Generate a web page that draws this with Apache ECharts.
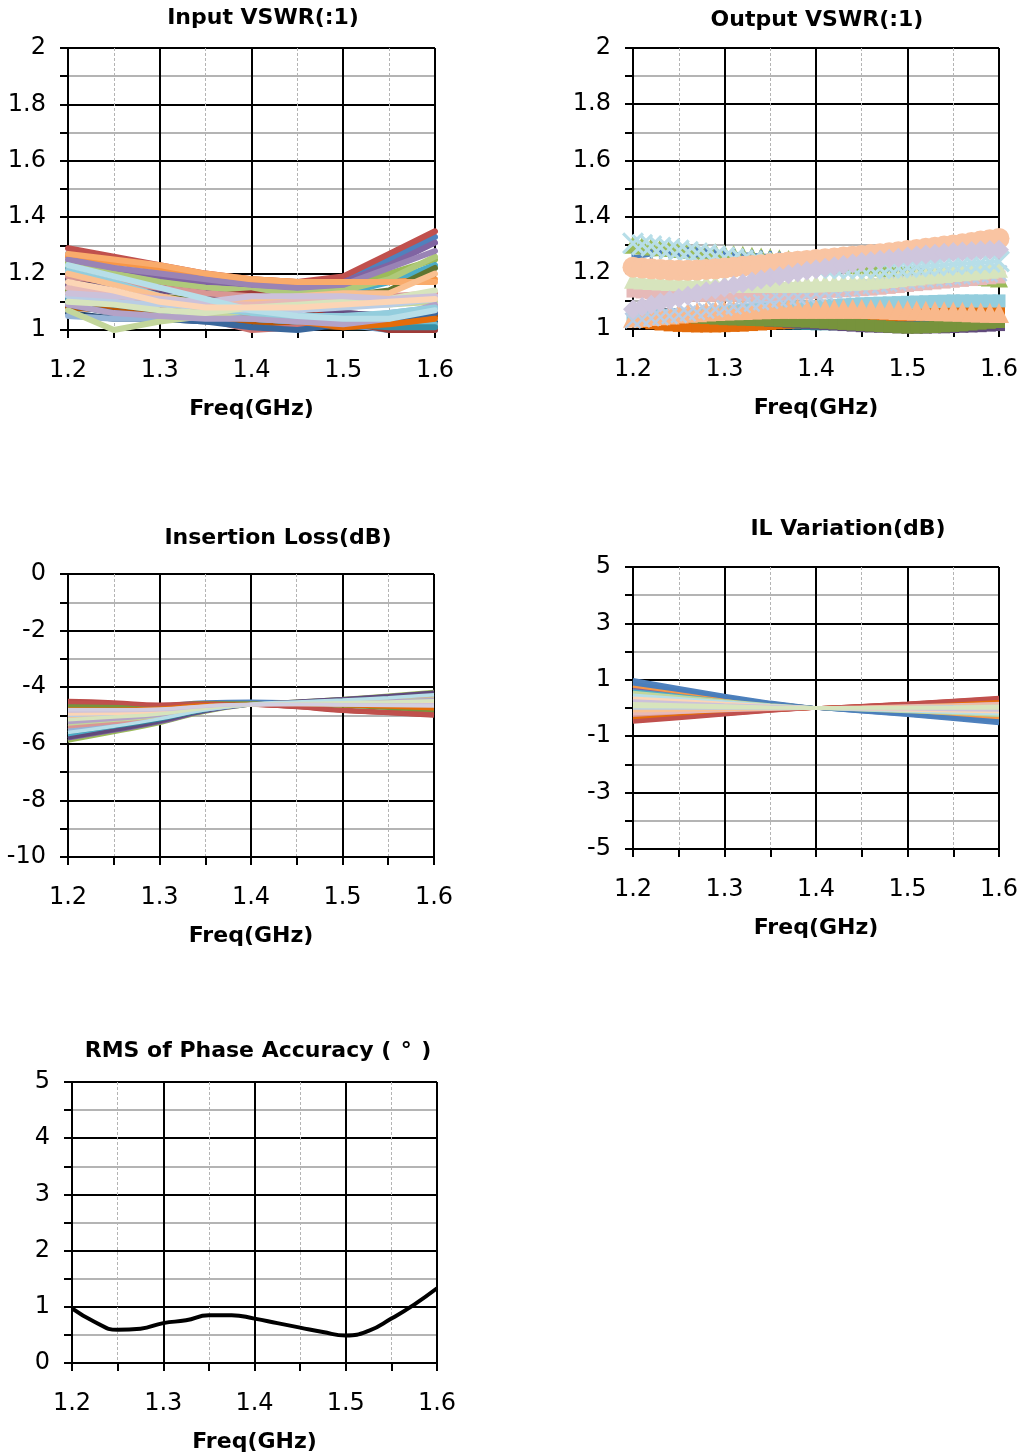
<!DOCTYPE html>
<html>
<head>
<meta charset="utf-8">
<script src="https://cdn.jsdelivr.net/npm/echarts@6/dist/echarts.min.js"></script>
<style>
  html, body { margin: 0; padding: 0; background: #fff; }
  #chart { width: 1025px; height: 1455px; }
</style>
</head>
<body>
<div id="chart"></div>
<script>
// frequency points (GHz)
var freq9 = [1.2, 1.25, 1.3, 1.35, 1.4, 1.45, 1.5, 1.55, 1.6];
var freq17 = [1.2, 1.225, 1.25, 1.275, 1.3, 1.325, 1.35, 1.375, 1.4, 1.425, 1.45, 1.475, 1.5, 1.525, 1.55, 1.575, 1.6];
var freq41 = [1.20, 1.21, 1.22, 1.23, 1.24, 1.25, 1.26, 1.27, 1.28, 1.29, 1.30,
  1.31, 1.32, 1.33, 1.34, 1.35, 1.36, 1.37, 1.38, 1.39, 1.40,
  1.41, 1.42, 1.43, 1.44, 1.45, 1.46, 1.47, 1.48, 1.49, 1.50,
  1.51, 1.52, 1.53, 1.54, 1.55, 1.56, 1.57, 1.58, 1.59, 1.60];

// Input VSWR, one row per state (values at freq9)
var inputVswr = [
  [1.27, 1.25, 1.22, 1.19, 1.17, 1.16, 1.18, 1.25, 1.33],
  [1.29, 1.26, 1.23, 1.20, 1.18, 1.17, 1.19, 1.27, 1.35],
  [1.24, 1.21, 1.18, 1.15, 1.14, 1.13, 1.15, 1.20, 1.25],
  [1.26, 1.22, 1.19, 1.17, 1.16, 1.15, 1.17, 1.23, 1.31],
  [1.22, 1.18, 1.15, 1.13, 1.12, 1.12, 1.13, 1.17, 1.23],
  [1.26, 1.24, 1.22, 1.19, 1.18, 1.17, 1.17, 1.17, 1.18],
  [1.06, 1.04, 1.04, 1.03, 1.03, 1.02, 1.02, 1.03, 1.05],
  [1.20, 1.17, 1.15, 1.13, 1.11, 1.08, 1.04, 1.02, 1.01],
  [1.17, 1.14, 1.12, 1.10, 1.10, 1.11, 1.12, 1.14, 1.22],
  [1.18, 1.17, 1.16, 1.14, 1.12, 1.09, 1.06, 1.05, 1.06],
  [1.10, 1.07, 1.06, 1.04, 1.03, 1.02, 1.01, 1.01, 1.03],
  [1.08, 1.07, 1.06, 1.05, 1.03, 1.02, 1.01, 1.02, 1.05],
  [1.12, 1.10, 1.08, 1.06, 1.04, 1.03, 1.02, 1.00, 1.00],
  [1.21, 1.19, 1.13, 1.04, 1.00, 1.01, 1.02, 1.03, 1.02],
  [1.23, 1.20, 1.17, 1.15, 1.14, 1.13, 1.14, 1.18, 1.26],
  [1.25, 1.22, 1.20, 1.18, 1.16, 1.15, 1.16, 1.22, 1.28],
  [1.15, 1.13, 1.11, 1.09, 1.07, 1.05, 1.03, 1.00, 1.02],
  [1.27, 1.25, 1.23, 1.20, 1.18, 1.17, 1.17, 1.17, 1.17],
  [1.09, 1.06, 1.04, 1.03, 1.01, 1.00, 1.02, 1.04, 1.06],
  [1.19, 1.17, 1.15, 1.12, 1.13, 1.10, 1.03, 1.00, 1.00],
  [1.14, 1.12, 1.10, 1.09, 1.07, 1.05, 1.04, 1.05, 1.08],
  [1.16, 1.15, 1.14, 1.13, 1.11, 1.09, 1.06, 1.05, 1.07],
  [1.11, 1.09, 1.07, 1.05, 1.04, 1.03, 1.02, 1.01, 1.01],
  [1.13, 1.11, 1.09, 1.07, 1.05, 1.03, 1.01, 1.02, 1.04],
  [1.05, 1.04, 1.04, 1.05, 1.04, 1.03, 1.04, 1.06, 1.08],
  [1.19, 1.17, 1.15, 1.13, 1.12, 1.11, 1.11, 1.12, 1.13],
  [1.07, 1.00, 1.03, 1.05, 1.07, 1.08, 1.09, 1.09, 1.10],
  [1.09, 1.06, 1.05, 1.04, 1.04, 1.03, 1.02, 1.04, 1.09],
  [1.21, 1.17, 1.12, 1.08, 1.06, 1.05, 1.05, 1.06, 1.08],
  [1.20, 1.16, 1.12, 1.09, 1.10, 1.12, 1.13, 1.13, 1.20],
  [1.12, 1.10, 1.09, 1.08, 1.07, 1.07, 1.08, 1.09, 1.11],
  [1.15, 1.13, 1.11, 1.09, 1.09, 1.10, 1.10, 1.11, 1.12],
  [1.10, 1.09, 1.07, 1.06, 1.08, 1.09, 1.10, 1.11, 1.14],
  [1.13, 1.12, 1.11, 1.10, 1.12, 1.12, 1.12, 1.11, 1.12],
  [1.23, 1.19, 1.15, 1.11, 1.07, 1.05, 1.04, 1.04, 1.07],
  [1.17, 1.14, 1.10, 1.08, 1.08, 1.08, 1.09, 1.10, 1.11]
];

// Output VSWR, one row per state (values at freq41)
var outputVswr = [
  [1.050, 1.048, 1.046, 1.044, 1.042, 1.040, 1.038, 1.036, 1.034, 1.032, 1.030,
   1.028, 1.026, 1.024, 1.022, 1.020, 1.019, 1.018, 1.017, 1.016, 1.015,
   1.015, 1.015, 1.015, 1.016, 1.017, 1.018, 1.019, 1.020, 1.022, 1.024,
   1.026, 1.028, 1.030, 1.032, 1.034, 1.036, 1.038, 1.040, 1.042, 1.044],
  [1.030, 1.025, 1.020, 1.016, 1.013, 1.011, 1.010, 1.009, 1.009, 1.009, 1.010,
   1.011, 1.012, 1.014, 1.016, 1.018, 1.020, 1.022, 1.024, 1.026, 1.028,
   1.030, 1.032, 1.034, 1.036, 1.038, 1.040, 1.042, 1.044, 1.046, 1.048,
   1.050, 1.052, 1.054, 1.056, 1.058, 1.060, 1.062, 1.064, 1.066, 1.068],
  [1.060, 1.058, 1.056, 1.054, 1.052, 1.050, 1.048, 1.046, 1.044, 1.042, 1.040,
   1.038, 1.036, 1.034, 1.032, 1.030, 1.028, 1.026, 1.024, 1.022, 1.020,
   1.018, 1.016, 1.014, 1.012, 1.010, 1.009, 1.008, 1.007, 1.006, 1.005,
   1.005, 1.005, 1.006, 1.006, 1.007, 1.008, 1.009, 1.010, 1.012, 1.014],
  [1.060, 1.057, 1.054, 1.051, 1.048, 1.045, 1.043, 1.041, 1.039, 1.037, 1.035,
   1.034, 1.033, 1.032, 1.031, 1.030, 1.029, 1.028, 1.027, 1.026, 1.024,
   1.022, 1.020, 1.018, 1.016, 1.014, 1.012, 1.010, 1.008, 1.006, 1.005,
   1.005, 1.006, 1.007, 1.009, 1.011, 1.013, 1.016, 1.019, 1.022, 1.025],
  [1.300, 1.297, 1.294, 1.291, 1.288, 1.285, 1.282, 1.279, 1.276, 1.273, 1.270,
   1.267, 1.264, 1.261, 1.258, 1.255, 1.252, 1.249, 1.246, 1.243, 1.240,
   1.237, 1.234, 1.231, 1.228, 1.225, 1.222, 1.219, 1.216, 1.213, 1.210,
   1.207, 1.204, 1.201, 1.198, 1.195, 1.192, 1.189, 1.186, 1.183, 1.180],
  [1.255, 1.260, 1.265, 1.268, 1.270, 1.272, 1.273, 1.273, 1.272, 1.271, 1.270,
   1.268, 1.266, 1.264, 1.262, 1.260, 1.257, 1.254, 1.251, 1.248, 1.245,
   1.242, 1.239, 1.236, 1.233, 1.230, 1.227, 1.224, 1.221, 1.218, 1.215,
   1.212, 1.209, 1.206, 1.203, 1.200, 1.197, 1.194, 1.191, 1.188, 1.185],
  [1.135, 1.132, 1.129, 1.127, 1.125, 1.123, 1.122, 1.121, 1.120, 1.120, 1.120,
   1.120, 1.121, 1.122, 1.123, 1.124, 1.125, 1.126, 1.127, 1.128, 1.130,
   1.132, 1.134, 1.136, 1.138, 1.140, 1.142, 1.145, 1.148, 1.151, 1.155,
   1.158, 1.161, 1.164, 1.167, 1.170, 1.173, 1.176, 1.179, 1.182, 1.185],
  [1.045, 1.046, 1.047, 1.048, 1.049, 1.050, 1.052, 1.054, 1.056, 1.058, 1.060,
   1.062, 1.064, 1.066, 1.068, 1.070, 1.072, 1.074, 1.076, 1.078, 1.080,
   1.082, 1.084, 1.086, 1.088, 1.090, 1.091, 1.092, 1.093, 1.094, 1.095,
   1.096, 1.097, 1.098, 1.099, 1.100, 1.100, 1.100, 1.100, 1.100, 1.100],
  [1.040, 1.043, 1.046, 1.049, 1.052, 1.055, 1.058, 1.060, 1.062, 1.064, 1.066,
   1.067, 1.068, 1.069, 1.070, 1.071, 1.072, 1.072, 1.072, 1.072, 1.072,
   1.072, 1.072, 1.072, 1.072, 1.072, 1.071, 1.070, 1.069, 1.068, 1.067,
   1.066, 1.065, 1.064, 1.063, 1.062, 1.061, 1.060, 1.059, 1.058, 1.057],
  [1.030, 1.034, 1.038, 1.042, 1.046, 1.050, 1.055, 1.060, 1.065, 1.070, 1.075,
   1.080, 1.085, 1.090, 1.095, 1.100, 1.105, 1.110, 1.115, 1.120, 1.125,
   1.130, 1.135, 1.140, 1.144, 1.148, 1.152, 1.156, 1.160, 1.164, 1.168,
   1.171, 1.174, 1.177, 1.180, 1.183, 1.186, 1.189, 1.192, 1.195, 1.198],
  [1.175, 1.173, 1.171, 1.169, 1.167, 1.166, 1.165, 1.164, 1.163, 1.162, 1.162,
   1.161, 1.161, 1.160, 1.160, 1.160, 1.160, 1.160, 1.161, 1.161, 1.162,
   1.163, 1.164, 1.166, 1.168, 1.170, 1.172, 1.175, 1.178, 1.181, 1.184,
   1.187, 1.190, 1.193, 1.196, 1.199, 1.202, 1.205, 1.208, 1.211, 1.214],
  [1.305, 1.300, 1.295, 1.290, 1.285, 1.280, 1.275, 1.270, 1.265, 1.260, 1.255,
   1.250, 1.245, 1.241, 1.237, 1.233, 1.230, 1.227, 1.224, 1.221, 1.219,
   1.217, 1.216, 1.215, 1.215, 1.215, 1.215, 1.216, 1.217, 1.218, 1.220,
   1.222, 1.224, 1.226, 1.228, 1.230, 1.232, 1.234, 1.236, 1.238, 1.240],
  [1.220, 1.217, 1.214, 1.212, 1.210, 1.209, 1.209, 1.210, 1.212, 1.214, 1.217,
   1.220, 1.223, 1.226, 1.229, 1.232, 1.235, 1.238, 1.241, 1.244, 1.247,
   1.250, 1.253, 1.256, 1.259, 1.262, 1.265, 1.268, 1.271, 1.275, 1.279,
   1.283, 1.287, 1.291, 1.295, 1.299, 1.303, 1.308, 1.313, 1.318, 1.322],
  [1.070, 1.078, 1.086, 1.094, 1.102, 1.110, 1.118, 1.126, 1.134, 1.141, 1.148,
   1.155, 1.162, 1.169, 1.176, 1.183, 1.189, 1.195, 1.201, 1.207, 1.213,
   1.218, 1.223, 1.228, 1.233, 1.238, 1.242, 1.246, 1.250, 1.254, 1.258,
   1.262, 1.265, 1.268, 1.271, 1.274, 1.276, 1.278, 1.280, 1.281, 1.282]
];

// Insertion loss (dB), one row per state (values at freq9)
var insertionLoss = [
  [-4.62, -4.63, -4.62, -4.52, -4.50, -4.53, -4.58, -4.64, -4.72],
  [-4.47, -4.52, -4.60, -4.55, -4.62, -4.70, -4.82, -4.90, -4.98],
  [-5.90, -5.60, -5.28, -4.88, -4.62, -4.50, -4.40, -4.28, -4.15],
  [-5.82, -5.55, -5.25, -4.86, -4.62, -4.51, -4.42, -4.31, -4.19],
  [-5.70, -5.47, -5.20, -4.84, -4.61, -4.52, -4.44, -4.35, -4.25],
  [-4.72, -4.72, -4.70, -4.60, -4.58, -4.60, -4.64, -4.70, -4.78],
  [-4.56, -4.58, -4.64, -4.58, -4.62, -4.68, -4.78, -4.85, -4.92],
  [-4.50, -4.55, -4.63, -4.57, -4.63, -4.72, -4.85, -4.93, -5.02],
  [-4.66, -4.67, -4.66, -4.56, -4.56, -4.60, -4.66, -4.74, -4.82],
  [-5.80, -5.52, -5.22, -4.85, -4.60, -4.50, -4.41, -4.30, -4.18],
  [-5.60, -5.40, -5.15, -4.82, -4.60, -4.53, -4.46, -4.38, -4.29],
  [-4.53, -4.56, -4.63, -4.58, -4.63, -4.71, -4.84, -4.92, -5.00],
  [-5.50, -5.32, -5.10, -4.80, -4.61, -4.54, -4.48, -4.42, -4.34],
  [-4.78, -4.78, -4.74, -4.62, -4.60, -4.61, -4.65, -4.70, -4.76],
  [-5.40, -5.25, -5.06, -4.78, -4.61, -4.55, -4.50, -4.45, -4.38],
  [-5.30, -5.17, -5.02, -4.77, -4.62, -4.56, -4.52, -4.48, -4.42],
  [-5.20, -5.10, -4.97, -4.75, -4.62, -4.57, -4.54, -4.51, -4.46],
  [-5.10, -5.02, -4.93, -4.73, -4.62, -4.58, -4.56, -4.54, -4.50],
  [-5.00, -4.95, -4.88, -4.71, -4.62, -4.59, -4.58, -4.57, -4.54],
  [-4.90, -4.88, -4.84, -4.69, -4.62, -4.60, -4.60, -4.60, -4.58],
  [-5.25, -5.13, -4.99, -4.76, -4.62, -4.56, -4.53, -4.49, -4.44],
  [-5.60, -5.38, -5.12, -4.80, -4.60, -4.52, -4.45, -4.37, -4.27],
  [-4.95, -4.92, -4.86, -4.70, -4.62, -4.59, -4.59, -4.58, -4.56],
  [-5.15, -5.05, -4.95, -4.74, -4.62, -4.58, -4.55, -4.52, -4.48],
  [-4.84, -4.83, -4.80, -4.67, -4.61, -4.61, -4.62, -4.63, -4.62],
  [-4.80, -4.80, -4.77, -4.66, -4.61, -4.61, -4.63, -4.65, -4.66]
];

// IL variation (dB), one row per state (values at freq9)
var ilVariation = [
  [1.00, 0.72, 0.44, 0.20, 0.00, -0.13, -0.26, -0.40, -0.55],
  [-0.50, -0.37, -0.24, -0.11, 0.00, 0.08, 0.17, 0.27, 0.37],
  [0.80, 0.58, 0.36, 0.16, 0.00, -0.10, -0.20, -0.30, -0.42],
  [0.70, 0.51, 0.32, 0.14, 0.00, -0.08, -0.17, -0.26, -0.36],
  [0.60, 0.44, 0.28, 0.12, 0.00, -0.07, -0.14, -0.22, -0.30],
  [0.78, 0.57, 0.36, 0.16, 0.00, -0.09, -0.18, -0.28, -0.38],
  [0.92, 0.67, 0.41, 0.18, 0.00, -0.12, -0.24, -0.37, -0.50],
  [-0.42, -0.31, -0.20, -0.09, 0.00, 0.07, 0.15, 0.24, 0.33],
  [0.50, 0.37, 0.23, 0.10, 0.00, -0.05, -0.11, -0.17, -0.23],
  [-0.30, -0.22, -0.14, -0.06, 0.00, 0.05, 0.11, 0.17, 0.24],
  [0.40, 0.30, 0.19, 0.08, 0.00, -0.04, -0.08, -0.12, -0.16],
  [-0.38, -0.28, -0.18, -0.08, 0.00, 0.06, 0.13, 0.20, 0.28],
  [0.86, 0.63, 0.39, 0.17, 0.00, -0.11, -0.22, -0.34, -0.46],
  [-0.46, -0.34, -0.22, -0.10, 0.00, 0.08, 0.16, 0.26, 0.35],
  [0.30, 0.22, 0.14, 0.06, 0.00, -0.02, -0.05, -0.08, -0.10],
  [0.20, 0.15, 0.09, 0.04, 0.00, -0.01, -0.02, -0.03, -0.04],
  [-0.20, -0.15, -0.09, -0.04, 0.00, 0.03, 0.07, 0.11, 0.15],
  [0.10, 0.07, 0.05, 0.02, 0.00, 0.00, 0.01, 0.02, 0.03],
  [-0.10, -0.07, -0.05, -0.02, 0.00, 0.02, 0.04, 0.07, 0.10],
  [0.55, 0.40, 0.25, 0.11, 0.00, -0.06, -0.12, -0.19, -0.26],
  [0.00, 0.00, 0.00, 0.00, 0.00, 0.01, 0.02, 0.04, 0.06],
  [0.45, 0.33, 0.21, 0.09, 0.00, -0.05, -0.10, -0.15, -0.20],
  [0.35, 0.26, 0.16, 0.07, 0.00, -0.03, -0.07, -0.10, -0.13],
  [0.25, 0.18, 0.11, 0.05, 0.00, -0.02, -0.03, -0.05, -0.07],
  [0.15, 0.11, 0.07, 0.03, 0.00, 0.00, 0.00, 0.00, 0.00],
  [0.05, 0.04, 0.02, 0.01, 0.00, 0.01, 0.02, 0.03, 0.05]
];

// RMS phase accuracy (deg) at freq17
var rmsPhase = [0.97, 0.73, 0.59, 0.61, 0.71, 0.76, 0.85, 0.85, 0.79, 0.71, 0.63, 0.55, 0.49, 0.57, 0.79, 1.04, 1.33];

// excel-like colour cycle
var palette = ['#4F81BD', '#C0504D', '#9BBB59', '#8064A2', '#4BACC6', '#F79646',
  '#2C4D75', '#772C2A', '#5F7530', '#4D3B62', '#276A7C', '#B65708',
  '#729ACA', '#CD7371', '#AFC97A', '#9983B5', '#6FBDD1', '#F9AB6B',
  '#3A679C', '#9F3B38', '#7E9C40', '#664F83', '#358EA6', '#E46C0A',
  '#95B3D7', '#D99694', '#C3D69B', '#B3A2C7', '#93CDDD', '#FAC090',
  '#B9CDE5', '#E6B9B8', '#D7E4BD', '#CCC1DA', '#B7DEE8', '#FCD5B5'];
var ilColors = ['#4F81BD', '#C0504D', '#9BBB59', '#8064A2', '#4BACC6', '#F79646',
  '#C0504D', '#B84A47', '#77933C', '#604A7B', '#31859C', '#C0504D',
  '#95B3D7', '#E46C0A', '#D99694', '#C3D69B', '#93CDDD', '#FAC090',
  '#B9CDE5', '#E6B9B8', '#B3A2C7', '#B7DEE8', '#FCD5B5', '#D7E4BD', '#CCC1DA', '#D3CEE0'];
var ilvColors = ['#4F81BD', '#C0504D', '#9BBB59', '#8064A2', '#4BACC6', '#F79646',
  '#4F81BD', '#C0504D', '#77933C', '#D99694', '#31859C', '#E46C0A',
  '#4A7EBB', '#C0504D', '#95B3D7', '#B3A2C7', '#E6B9B8', '#93CDDD',
  '#FAC090', '#C3D69B', '#B9CDE5', '#B7DEE8', '#FCD5B5', '#CCC1DA', '#D7E4BD', '#D7E4BD'];

var xMark = 'path://M1,0L5,4L9,0L10,1L6,5L10,9L9,10L5,6L1,10L0,9L4,5L0,1Z';
var outStyles = [
  { color: '#31859C', symbol: 'rect', size: 11 },
  { color: '#E46C0A', symbol: 'rect', size: 12 },
  { color: '#604A7B', symbol: 'rect', size: 12 },
  { color: '#77933C', symbol: 'rect', size: 12 },
  { color: '#9BBB59', symbol: 'triangle', size: 18 },
  { color: '#4F81BD', symbol: 'rect', size: [3, 10] },
  { color: '#E6B9B8', symbol: 'rect', size: 13 },
  { color: '#93CDDD', symbol: 'rect', size: 13 },
  { color: '#F9B88B', symbol: 'triangle', size: 20 },
  { color: '#B9CDE5', symbol: xMark, size: 17 },
  { color: '#D7E4BD', symbol: 'triangle', size: 18 },
  { color: '#B7DEE8', symbol: xMark, size: 22 },
  { color: '#F9C4A2', symbol: 'circle', size: 21 },
  { color: '#CFC6DD', symbol: 'diamond', size: 20 }
];

var FONT = '"DejaVu Sans", Verdana, sans-serif';

var grids = [
  { left: 68, top: 48, width: 367, height: 282 },
  { left: 633, top: 48, width: 366, height: 281 },
  { left: 68, top: 574, width: 366, height: 283 },
  { left: 633, top: 567, width: 366, height: 282 },
  { left: 72, top: 1082, width: 365, height: 281 }
];

function xAxisFor(i) {
  return {
    type: 'value', gridIndex: i, min: 1.2, max: 1.6, interval: 0.1,
    axisLine: { onZero: false, lineStyle: { color: '#000', width: 2 } },
    axisTick: { length: 8, lineStyle: { color: '#000', width: 2 } },
    minorTick: { show: true, splitNumber: 2, length: 8, lineStyle: { color: '#000', width: 2 } },
    splitLine: { show: true, lineStyle: { color: '#000', width: 2 } },
    minorSplitLine: { show: true, lineStyle: { color: '#b4b4b4', width: 1, type: [3, 2] } },
    axisLabel: { margin: 29, fontSize: 24, fontFamily: FONT, color: '#000',
      formatter: function (v) { return v.toFixed(1); } },
    name: 'Freq(GHz)', nameLocation: 'middle', nameGap: 68,
    nameTextStyle: { fontSize: 22, fontWeight: 'bold', fontFamily: FONT, color: '#000' }
  };
}

function yAxisFor(i, min, max, step) {
  return {
    type: 'value', gridIndex: i, min: min, max: max, interval: step,
    axisLine: { show: true, onZero: false, lineStyle: { color: '#000', width: 2 } },
    axisTick: { show: true, length: 8, lineStyle: { color: '#000', width: 2 } },
    minorTick: { show: true, splitNumber: 2, length: 8, lineStyle: { color: '#000', width: 2 } },
    splitLine: { show: true, lineStyle: { color: '#000', width: 2 } },
    minorSplitLine: { show: true, lineStyle: { color: '#b4b4b4', width: 2 } },
    axisLabel: { margin: 22, fontSize: 24, fontFamily: FONT, color: '#000' }
  };
}

function pairs(xs, ys) {
  return ys.map(function (v, j) { return [xs[j], v]; });
}

var series = [];
inputVswr.forEach(function (row, k) {
  series.push({
    type: 'line', xAxisIndex: 0, yAxisIndex: 0, data: pairs(freq9, row),
    symbol: 'none', clip: false, silent: true,
    lineStyle: { width: 6, color: palette[k], cap: 'round', join: 'round' }
  });
});
outputVswr.forEach(function (row, k) {
  var st = outStyles[k];
  series.push({
    type: 'line', xAxisIndex: 1, yAxisIndex: 1, data: pairs(freq41, row),
    symbol: st.symbol, symbolSize: st.size, showAllSymbol: true, clip: false, silent: true,
    itemStyle: { color: st.color, borderWidth: 0 },
    lineStyle: { width: 4, color: st.color }
  });
});
insertionLoss.forEach(function (row, k) {
  series.push({
    type: 'line', xAxisIndex: 2, yAxisIndex: 2, data: pairs(freq9, row),
    symbol: 'none', smooth: true, clip: false, silent: true,
    lineStyle: { width: 3.5, color: ilColors[k] }
  });
});
ilVariation.forEach(function (row, k) {
  series.push({
    type: 'line', xAxisIndex: 3, yAxisIndex: 3, data: pairs(freq9, row),
    symbol: 'none', clip: false, silent: true,
    lineStyle: { width: 3.5, color: ilvColors[k] }
  });
});
series.push({
  type: 'line', xAxisIndex: 4, yAxisIndex: 4, data: pairs(freq17, rmsPhase),
  symbol: 'none', smooth: true, clip: false, silent: true,
  lineStyle: { width: 4, color: '#000' }
});

function titleText(x, y, text, rich) {
  return {
    type: 'text', x: x, y: y, silent: true,
    style: {
      text: text, fill: '#000', font: 'bold 22px ' + FONT,
      align: 'center', verticalAlign: 'middle', rich: rich
    }
  };
}

var chart = echarts.init(document.getElementById('chart'), null, { renderer: 'canvas' });
chart.setOption({
  animation: false,
  backgroundColor: '#fff',
  grid: grids,
  xAxis: [xAxisFor(0), xAxisFor(1), xAxisFor(2), xAxisFor(3), xAxisFor(4)],
  yAxis: [yAxisFor(0, 1, 2, 0.2), yAxisFor(1, 1, 2, 0.2), yAxisFor(2, -10, 0, 2),
    yAxisFor(3, -5, 5, 2), yAxisFor(4, 0, 5, 1)],
  graphic: [
    titleText(263, 18, 'Input VSWR(:1)'),
    titleText(817, 20, 'Output VSWR(:1)'),
    titleText(278, 538, 'Insertion Loss(dB)'),
    titleText(848, 529, 'IL Variation(dB)'),
    titleText(258, 1051, 'RMS of Phase Accuracy ({d|°})',
      { d: { width: 30, align: 'center', font: 'bold 22px ' + FONT, fill: '#000' } })
  ],
  series: series
});
</script>
</body>
</html>
